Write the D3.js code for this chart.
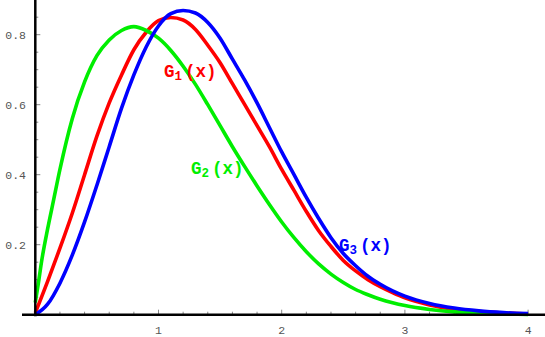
<!DOCTYPE html>
<html><head><meta charset="utf-8">
<script src="https://cdn.jsdelivr.net/npm/d3@7"></script>
<style>html,body{margin:0;padding:0;background:#fff;}svg{display:block;}</style>
</head><body>
<svg id="chart" width="545" height="337"></svg>
<script>
const xValues = [0,0.1,0.2,0.3,0.4,0.5,0.6,0.7,0.8,0.9,1.0,1.1,1.2,1.3,1.4,1.5,1.6,1.7,1.8,1.9,2.0,2.1,2.2,2.3,2.4,2.5,2.6,2.7,2.8,2.9,3.0,3.2,3.4,3.6,3.8,4.0];
const g1Values = [0.005,0.095,0.19,0.29,0.40,0.51,0.605,0.685,0.757,0.807,0.84,0.849,0.842,0.815,0.77,0.72,0.66,0.60,0.54,0.48,0.415,0.355,0.295,0.24,0.195,0.155,0.125,0.10,0.08,0.063,0.048,0.028,0.016,0.009,0.005,0.002];
const g3Values = [0,0.03,0.09,0.17,0.265,0.37,0.48,0.59,0.685,0.765,0.825,0.86,0.869,0.862,0.835,0.79,0.73,0.67,0.605,0.535,0.465,0.40,0.335,0.275,0.22,0.175,0.14,0.11,0.087,0.068,0.053,0.032,0.019,0.011,0.006,0.003];
const g2X = [0,0.025,0.05,0.1,0.15,0.2,0.3,0.4,0.5,0.6,0.7,0.8,0.9,1.0,1.1,1.2,1.3,1.4,1.5,1.6,1.7,1.8,1.9,2.0,2.1,2.2,2.3,2.4,2.5,2.6,2.7,2.8,2.9,3.0,3.2,3.4,3.6,3.8,4.0];
const g2Values = [0.035,0.09,0.15,0.245,0.33,0.415,0.56,0.665,0.74,0.785,0.812,0.823,0.812,0.79,0.755,0.71,0.658,0.60,0.54,0.48,0.423,0.368,0.315,0.265,0.22,0.18,0.145,0.116,0.092,0.072,0.057,0.044,0.034,0.026,0.015,0.008,0.004,0.002,0.001];
const xTicks = [1,2,3,4];
const yTicks = [0.2,0.4,0.6,0.8];
const yTickLabels = ["0.2","0.4","0.6","0.8"];

const svg = d3.select("#chart");
const x = d3.scaleLinear().domain([0,4]).range([35.3,528.1]);
const y = d3.scaleLinear().domain([0,0.8]).range([314.7,34.7]);

// minor/major ticks
const tickColor = "#888";
const xMinor = d3.range(0.2,4.01,0.2).filter(v => Math.abs(v-Math.round(v))>1e-6);
svg.append("g").selectAll("line").data(xMinor).join("line")
  .attr("x1",d=>x(d)).attr("x2",d=>x(d)).attr("y1",y(0)).attr("y2",y(0)-3)
  .attr("stroke",tickColor).attr("stroke-width",1);
svg.append("g").selectAll("line").data(xTicks).join("line")
  .attr("x1",d=>x(d)).attr("x2",d=>x(d)).attr("y1",y(0)).attr("y2",y(0)-5)
  .attr("stroke",tickColor).attr("stroke-width",1);
const yMinor = d3.range(0.05,0.9,0.05).filter(v => Math.abs(v*5-Math.round(v*5))>1e-6);
svg.append("g").selectAll("line").data(yMinor).join("line")
  .attr("x1",x(0)).attr("x2",x(0)+3).attr("y1",d=>y(d)).attr("y2",d=>y(d))
  .attr("stroke",tickColor).attr("stroke-width",1);
svg.append("g").selectAll("line").data(yTicks).join("line")
  .attr("x1",x(0)).attr("x2",x(0)+5).attr("y1",d=>y(d)).attr("y2",d=>y(d))
  .attr("stroke",tickColor).attr("stroke-width",1);

// tick labels
const font = "'Liberation Mono','Courier New',monospace";
svg.append("g").selectAll("text").data(yTicks).join("text")
  .attr("x",26).attr("y",d=>y(d)).attr("dy","0.35em")
  .attr("text-anchor","end").attr("font-family",font).attr("font-size",11.5)
  .attr("fill","#555").text((d,i)=>yTickLabels[i]);
svg.append("g").selectAll("text").data(xTicks).join("text")
  .attr("x",d=>x(d)).attr("y",330).attr("dy","0.35em")
  .attr("text-anchor","middle").attr("font-family",font).attr("font-size",11.5)
  .attr("fill","#555").text(d=>d);

// curves
const line = d3.line().x(d=>x(d[0])).y(d=>y(d[1])).curve(d3.curveMonotoneX);
const series = [
  {xs:xValues, ys:g1Values, color:"#ff0000"},
  {xs:g2X, ys:g2Values, color:"#00ee00"},
  {xs:xValues, ys:g3Values, color:"#0000ff"}
];
series.forEach(s=>{
  svg.append("path").datum(s.xs.map((v,i)=>[v,s.ys[i]]))
    .attr("d",line).attr("fill","none").attr("stroke",s.color)
    .attr("stroke-width",3.6).attr("stroke-linejoin","round");
});

// axes lines
svg.append("line").attr("x1",22).attr("x2",545).attr("y1",y(0)).attr("y2",y(0))
  .attr("stroke","#000").attr("stroke-width",2.5);
svg.append("line").attr("x1",x(0)).attr("x2",x(0)).attr("y1",0).attr("y2",y(0)+1.5)
  .attr("stroke","#000").attr("stroke-width",2.5);

// labels
const labels = [
  {sub:"1", px:164, py:77, color:"#ff0000"},
  {sub:"2", px:191, py:174, color:"#00ee00"},
  {sub:"3", px:339, py:251, color:"#0000ff"}
];
labels.forEach(l=>{
  const t = svg.append("text").attr("x",l.px).attr("y",l.py)
    .attr("font-family",font).attr("font-weight","bold").attr("font-size",17.5)
    .attr("fill",l.color);
  t.append("tspan").text("G");
  t.append("tspan").attr("font-size",12.5).attr("dy",3).text(l.sub);
  t.append("tspan").attr("dy",-3).attr("dx",3).text("(x)");
});
</script>
</body></html>
